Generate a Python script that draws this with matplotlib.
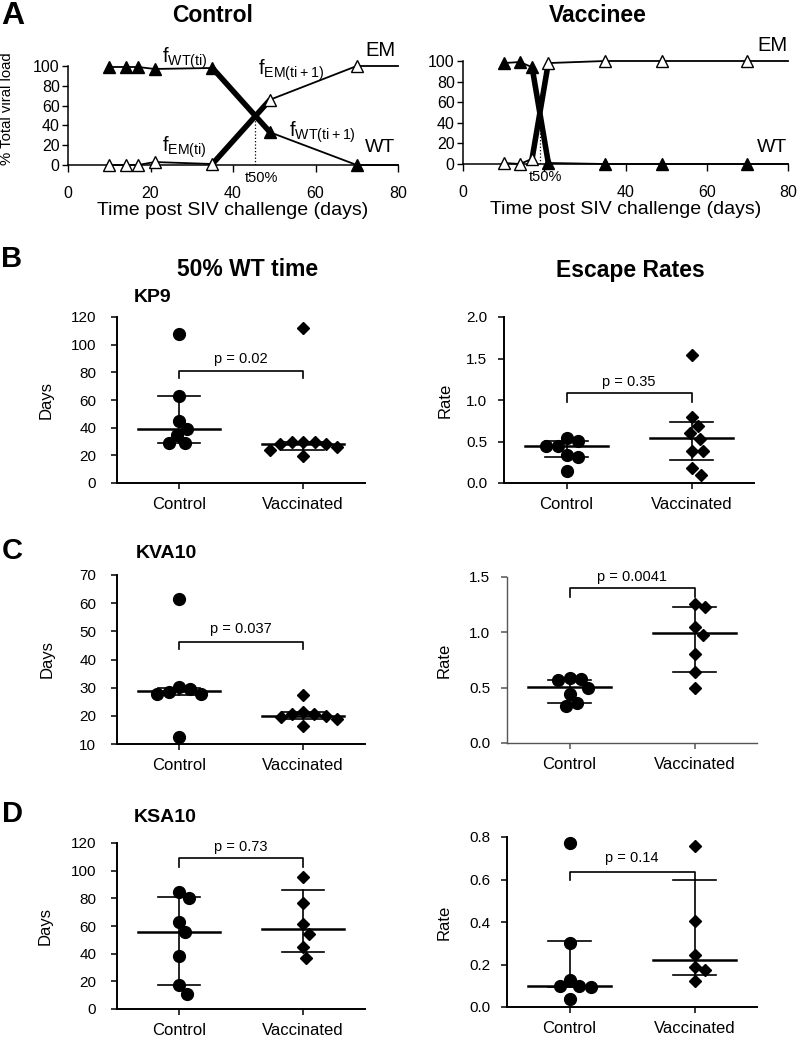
import numpy as np
import matplotlib
matplotlib.use("Agg")
import matplotlib.pyplot as plt

plt.rcParams["font.family"] = ["Liberation Sans", "DejaVu Sans"]
plt.rcParams["mathtext.fontset"] = "custom"
plt.rcParams["mathtext.rm"] = "Liberation Sans"

# ---- panel A: % of total viral load (WT vs escape mutant) ----
a_days = [10, 14, 17, 21, 35, 49, 70]
ctrl_wt = [99, 99, 99, 97, 98, 33, 0]
ctrl_em = [0, 0, 0, 3, 1, 66, 100]
vacc_wt = [98, 99, 94, 1, 0, 0, 0]
vacc_em = [1, 0, 5, 98, 100, 100, 100]

# ---- panels B-D: per-animal values ----
groups = ["Control", "Vaccinated"]

kp9_days_ctrl = [108, 63, 45, 39, 35, 29, 29]
kp9_days_vacc = [112, 29.6, 29.6, 29.6, 28, 28, 26, 24, 19.5]
kp9_days_stats = [(39, 29, 63), (28, 24, 29.6)]       # median, q1, q3
kp9_rate_ctrl = [0.54, 0.51, 0.45, 0.44, 0.34, 0.31, 0.14]
kp9_rate_vacc = [1.54, 0.80, 0.69, 0.60, 0.53, 0.39, 0.39, 0.18, 0.10]
kp9_rate_stats = [(0.45, 0.31, 0.51), (0.54, 0.28, 0.74)]

kva10_days_ctrl = [61.5, 30.3, 29.6, 28.5, 27.8, 27.8, 12.6]
kva10_days_vacc = [27.5, 21.5, 20.5, 20.5, 20, 19.5, 19, 16.5]
kva10_days_stats = [(28.8, 27.5, 29.8), (20, 19, 21.5)]
kva10_rate_ctrl = [0.59, 0.58, 0.57, 0.50, 0.44, 0.36, 0.33]
kva10_rate_vacc = [1.26, 1.225, 1.045, 0.98, 0.80, 0.64, 0.50]
kva10_rate_stats = [(0.51, 0.36, 0.57), (0.99, 0.64, 1.23)]

ksa10_days_ctrl = [84.6, 80, 63, 56, 38, 17, 11]
ksa10_days_vacc = [95.6, 76.6, 61.7, 54.5, 45, 37]
ksa10_days_stats = [(56, 17, 81), (58, 41.5, 86)]
ksa10_rate_ctrl = [0.77, 0.30, 0.127, 0.099, 0.099, 0.094, 0.038]
ksa10_rate_vacc = [0.76, 0.405, 0.245, 0.19, 0.174, 0.122]
ksa10_rate_stats = [(0.10, 0.095, 0.31), (0.22, 0.15, 0.60)]

p_labels = {
    "kp9_days": "p = 0.02", "kp9_rate": "p = 0.35",
    "kva10_days": "p = 0.037", "kva10_rate": "p = 0.0041",
    "ksa10_days": "p = 0.73", "ksa10_rate": "p = 0.14",
}

W, H = 800, 1040
fig = plt.figure(figsize=(W / 100, H / 100), dpi=100)


def ax_px(left, bottom, right, top):
    return fig.add_axes([left / W, 1 - bottom / H, (right - left) / W, (bottom - top) / H])


def style_axes(ax, lw):
    for s in ("top", "right"):
        ax.spines[s].set_visible(False)
    for s in ("left", "bottom"):
        ax.spines[s].set_linewidth(lw)


def kinetics(ax, days, wt, em, hide_20):
    xmax = 80
    ax.set_xlim(0, xmax)
    ax.set_ylim(0, 100)
    style_axes(ax, 1.1)
    wt = np.asarray(wt, float)
    em = np.asarray(em, float)
    diff = wt - em
    k = int(np.argmax(diff < 0))
    t50 = days[k - 1] + (days[k] - days[k - 1]) * diff[k - 1] / (diff[k - 1] - diff[k])
    y50 = wt[k - 1] + (wt[k] - wt[k - 1]) * (t50 - days[k - 1]) / (days[k] - days[k - 1])
    for series, face in ((wt, "black"), (em, "white")):
        kw = dict(color="black", clip_on=False, zorder=2)
        ax.plot(days[:k], series[:k], lw=1.3, **kw)
        ax.plot(days[k - 1:k + 1], series[k - 1:k + 1], lw=4, solid_capstyle="butt", **kw)
        ax.plot(days[k - 1:], series[k - 1:], lw=1.3, **kw)
        ax.plot([days[-1], xmax], [series[-1], series[-1]], lw=1.3, **kw)
        ax.plot(days, series, ls="none", marker="^", ms=8.5, mfc=face, mec="black",
                mew=1.0, clip_on=False, zorder=3)
    ax.plot([t50, t50], [0, y50], ls=":", color="black", lw=0.9, zorder=1)
    ax.set_xticks([0, 20, 40, 60, 80])
    ax.set_xticklabels(["0", "" if hide_20 else "20", "40", "60", "80"])
    ax.set_yticks(range(0, 101, 20))
    ax.tick_params(axis="x", direction="out", length=5, width=1.0, pad=10, labelsize=11.5)
    ax.tick_params(axis="y", direction="out", length=4, width=1.0, pad=2, labelsize=11.5)
    ax.set_xlabel("Time post SIV challenge (days)", fontsize=14, labelpad=1)
    ax.text(t50 + 1.5, -13, "t50%", ha="center", va="center", fontsize=10.5, clip_on=False)
    return t50


def swarm_offsets(ax, x0, vals, diam_px):
    vals = np.asarray(vals, float)
    pts = ax.transData.transform(np.column_stack([np.full(len(vals), x0), vals]))
    ys = pts[:, 1]
    px_per_x = ax.transData.transform([[x0 + 1, 0]])[0, 0] - ax.transData.transform([[x0, 0]])[0, 0]
    order = np.argsort(-vals, kind="stable")
    placed = []
    offs = np.zeros(len(vals))
    for i in order:
        y = ys[i]
        cands = [0.0]
        for px, py in placed:
            dy = abs(py - y)
            if dy < diam_px:
                dx = np.sqrt(diam_px ** 2 - dy ** 2)
                cands += [px + dx, px - dx]
        cands.sort(key=lambda c: (round(abs(c), 6), -c))
        for c in cands:
            if all((c - px) ** 2 + (y - py) ** 2 >= diam_px ** 2 - 1e-6 for px, py in placed):
                break
        placed.append((c, y))
        offs[i] = c / px_per_x
    return offs


def scatter_panel(ax, ctrl, vacc, stats, ylim, yticks, fmt, ylabel, label_x, p_text,
                  bracket_y, drop, text_y, spine_color="black", spine_lw=1.4, ypad=8):
    ax.set_xlim(0.5, 2.5)
    ax.set_ylim(*ylim)
    style_axes(ax, spine_lw)
    for s in ("left", "bottom"):
        ax.spines[s].set_color(spine_color)
    for xc, vals, mk, ms in ((1, ctrl, "o", 8.5), (2, vacc, "D", 6.2)):
        offs = swarm_offsets(ax, xc, vals, 11.5)
        ax.plot(xc + offs, vals, ls="none", marker=mk, ms=ms, color="black",
                clip_on=False, zorder=3)
        med, q1, q3 = stats[xc - 1]
        ax.plot([xc - 0.33, xc + 0.33], [med, med], color="black", lw=1.8, zorder=2)
        ax.plot([xc - 0.17, xc + 0.17], [q1, q1], color="black", lw=1.2, zorder=2)
        ax.plot([xc - 0.17, xc + 0.17], [q3, q3], color="black", lw=1.2, zorder=2)
        ax.plot([xc, xc], [q1, q3], color="black", lw=1.2, zorder=2)
    ax.plot([1, 1, 2, 2], [bracket_y - drop, bracket_y, bracket_y, bracket_y - drop],
            color="black", lw=1.2, clip_on=False)
    ax.text(1.5, text_y, p_text, ha="center", va="center", fontsize=10.5)
    ax.set_xticks([1, 2])
    ax.set_xticklabels(groups)
    ax.set_yticks(yticks)
    ax.set_yticklabels([fmt.format(v) for v in yticks])
    ax.tick_params(axis="x", direction="out", length=4, width=1.1, pad=6, labelsize=12,
                   color=spine_color)
    ax.tick_params(axis="y", direction="out", length=4, width=1.1, pad=ypad, labelsize=11,
                   color=spine_color)
    ax.set_ylabel(ylabel, fontsize=12)
    ax.yaxis.set_label_coords(label_x, 0.5)


# ---- panel A ----
axA1 = ax_px(68, 165, 398, 66)
kinetics(axA1, a_days, ctrl_wt, ctrl_em, hide_20=False)
axA1.set_ylabel("% Total viral load", fontsize=10.7)
axA1.yaxis.set_label_coords(-0.163, 0.57)
fs_f = 14.5
axA1.text(22.7, 108, r"f$_{\mathregular{WT(ti)}}$", fontsize=fs_f, va="center", clip_on=False)
axA1.text(46, 96, r"f$_{\mathregular{EM(ti+1)}}$", fontsize=fs_f, va="center", clip_on=False)
axA1.text(53.6, 33, r"f$_{\mathregular{WT(ti+1)}}$", fontsize=fs_f, va="center", clip_on=False)
axA1.text(22.7, 18, r"f$_{\mathregular{EM(ti)}}$", fontsize=fs_f, va="center", clip_on=False)
axA1.text(72, 116, "EM", fontsize=14.5, va="center", clip_on=False)
axA1.text(72, 18, "WT", fontsize=14, va="center", clip_on=False)

axA2 = ax_px(463, 164, 788, 61)
kinetics(axA2, a_days, vacc_wt, vacc_em, hide_20=True)
axA2.text(72.4, 115, "EM", fontsize=14.5, va="center", clip_on=False)
axA2.text(72.4, 16, "WT", fontsize=14, va="center", clip_on=False)

fig.text(13 / W, 1 - 16 / H, "A", fontsize=23, fontweight="bold", ha="center", va="center")
fig.text(213 / W, 1 - 16 / H, "Control", fontsize=16.5, fontweight="bold", ha="center", va="center")
fig.text(598 / W, 1 - 16 / H, "Vaccinee", fontsize=16.5, fontweight="bold", ha="center", va="center")

# ---- panel B ----
fig.text(12 / W, 1 - 259 / H, "B", fontsize=21, fontweight="bold", ha="center", va="center")
fig.text(248 / W, 1 - 270 / H, "50% WT time", fontsize=16.5, fontweight="bold", ha="center", va="center")
fig.text(630 / W, 1 - 270 / H, "Escape Rates", fontsize=16.5, fontweight="bold", ha="center", va="center")
fig.text(153 / W, 1 - 297 / H, "KP9", fontsize=14, fontweight="bold", ha="center", va="center")

axB1 = ax_px(117, 483, 365, 317)
scatter_panel(axB1, kp9_days_ctrl, kp9_days_vacc, kp9_days_stats, (0, 120), range(0, 121, 20),
              "{:.0f}", "Days", -0.255, p_labels["kp9_days"], 81, 5, 90, ypad=11)
axB2 = ax_px(504, 483, 754, 317)
scatter_panel(axB2, kp9_rate_ctrl, kp9_rate_vacc, kp9_rate_stats, (0, 2.0), [0, 0.5, 1.0, 1.5, 2.0],
              "{:.1f}", "Rate", -0.205, p_labels["kp9_rate"], 1.08, 0.1, 1.22)

# ---- panel C ----
fig.text(12 / W, 1 - 551 / H, "C", fontsize=21, fontweight="bold", ha="center", va="center")
fig.text(166 / W, 1 - 553 / H, "KVA10", fontsize=14, fontweight="bold", ha="center", va="center")
axC1 = ax_px(117, 744, 365, 575)
scatter_panel(axC1, kva10_days_ctrl, kva10_days_vacc, kva10_days_stats, (10, 70), range(10, 71, 10),
              "{:.0f}", "Days", -0.25, p_labels["kva10_days"], 46.2, 2.4, 50.8, ypad=11)
axC2 = ax_px(507, 743, 757, 577)
scatter_panel(axC2, kva10_rate_ctrl, kva10_rate_vacc, kva10_rate_stats, (0, 1.5), [0, 0.5, 1.0, 1.5],
              "{:.1f}", "Rate", -0.22, p_labels["kva10_rate"], 1.40, 0.08, 1.50,
              spine_color="#555555", spine_lw=1.0)

# ---- panel D ----
fig.text(12 / W, 1 - 814 / H, "D", fontsize=21, fontweight="bold", ha="center", va="center")
fig.text(165 / W, 1 - 817 / H, "KSA10", fontsize=14, fontweight="bold", ha="center", va="center")
axD1 = ax_px(117, 1009, 365, 843)
scatter_panel(axD1, ksa10_days_ctrl, ksa10_days_vacc, ksa10_days_stats, (0, 120), range(0, 121, 20),
              "{:.0f}", "Days", -0.258, p_labels["ksa10_days"], 109, 6, 117, ypad=11)
axD2 = ax_px(507, 1007, 757, 837)
scatter_panel(axD2, ksa10_rate_ctrl, ksa10_rate_vacc, ksa10_rate_stats, (0, 0.8), [0, 0.2, 0.4, 0.6, 0.8],
              "{:.1f}", "Rate", -0.22, p_labels["ksa10_rate"], 0.635, 0.035, 0.70)

fig.savefig("out.png", dpi=100)
plt.close(fig)
